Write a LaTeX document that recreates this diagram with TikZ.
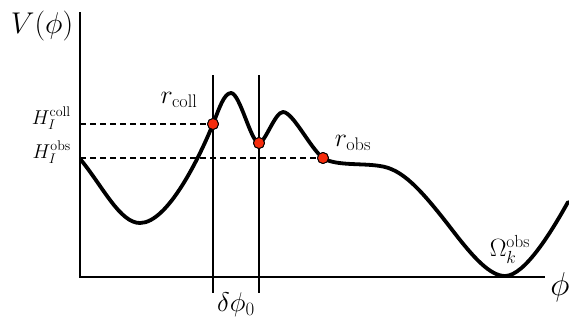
\RequirePackage{fix-cm}
\documentclass[tikz,border=0pt]{standalone}
\usepackage{amsmath}
\usepackage{xcolor}
\usepackage{tikz}
\usetikzlibrary{positioning,calc}
\definecolor{dotred}{RGB}{246,44,12}
\newcommand{\fsz}[1]{\fontsize{#1}{#1}\selectfont}
\tikzset{
  axis/.style={line width=1.6pt},
  cut/.style={line width=1.8pt},
  potential/.style={line width=3.8pt, line join=round, line cap=round},
  level/.style={line width=2.2pt, dash pattern=on 6pt off 4pt},
  dot/.style={circle, draw=black, line width=0.9pt, fill=dotred,
    minimum size=11pt, inner sep=0pt},
  biglabel/.style={font=\fsz{30}, inner sep=0pt},
  hlabel/.style={font=\fsz{20}, inner sep=0pt, anchor=base east},
  rlabel/.style={font=\fsz{26}, inner sep=0pt}
}
\begin{document}
\begin{tikzpicture}[x=1pt, y=-1pt]
  \useasboundingbox (0,0) rectangle (569,322);
  % axes
  \coordinate (ytop) at (80,12);
  \coordinate (origin) at (80,277);
  \coordinate (xend) at (545,277);
  \draw[axis] (ytop) -- (origin) -- (xend);
  \node[biglabel] (vlabel) at (42,26) {$V(\phi)$};
  \node[biglabel, font=\fsz{33}] (philabel) at (560,287) {$\phi$};
  % window around the collision point
  \coordinate (cuta top) at (213,75);
  \coordinate (cuta bot) at (213,293);
  \coordinate (cutb top) at (259,75);
  \coordinate (cutb bot) at (259,293);
  \draw[cut] (cuta top) -- (cuta bot);
  \draw[cut] (cutb top) -- (cutb bot);
  \node[rlabel, font=\fsz{27}] (dphi) at (236,305) {$\delta\phi_0$};
  % the potential
  \draw[potential] (81,160)
    .. controls (103,187) and (120,223) .. (140,223)
    .. controls (168,223) and (200,156) .. (213,124)
    .. controls (219,109) and (224,93) .. (231,93)
    .. controls (240,93) and (251,143) .. (259,143)
    .. controls (265,143) and (275,112) .. (283,112)
    .. controls (293,112) and (310,148) .. (323,158)
    .. controls (335,166) and (362,163) .. (380,166)
    .. controls (402,169) and (420,188) .. (453,231)
    .. controls (473,257) and (490,276) .. (505,276)
    .. controls (525,276) and (553,229) .. (568,202);
  % levels
  \node[dot] (rcoll) at (213,124) {};
  \node[dot] (rmid) at (259,143) {};
  \node[dot] (robs) at (323,158) {};
  \coordinate (hcoll) at (80,124);
  \coordinate (hobs) at (80,158);
  \draw[level] (hcoll) -- (rcoll);
  \draw[level] (hobs) -- (robs);
  \node[dot] at (rcoll) {};
  \node[dot] at (rmid) {};
  \node[dot] at (robs) {};
  \node[hlabel] (hcolllabel) at (71,124) {$H_I^{\mathrm{coll}}$};
  \node[hlabel] (hobslabel) at (71,158) {$H_I^{\mathrm{obs}}$};
  \node[rlabel] (rcolllabel) at (179,100) {$r_{\mathrm{coll}}$};
  \node[rlabel] (robslabel) at (353,143) {$r_{\mathrm{obs}}$};
  \node[rlabel, font=\fsz{25}] (omega) at (510,249) {$\Omega_k^{\mathrm{obs}}$};
\end{tikzpicture}
\end{document}
